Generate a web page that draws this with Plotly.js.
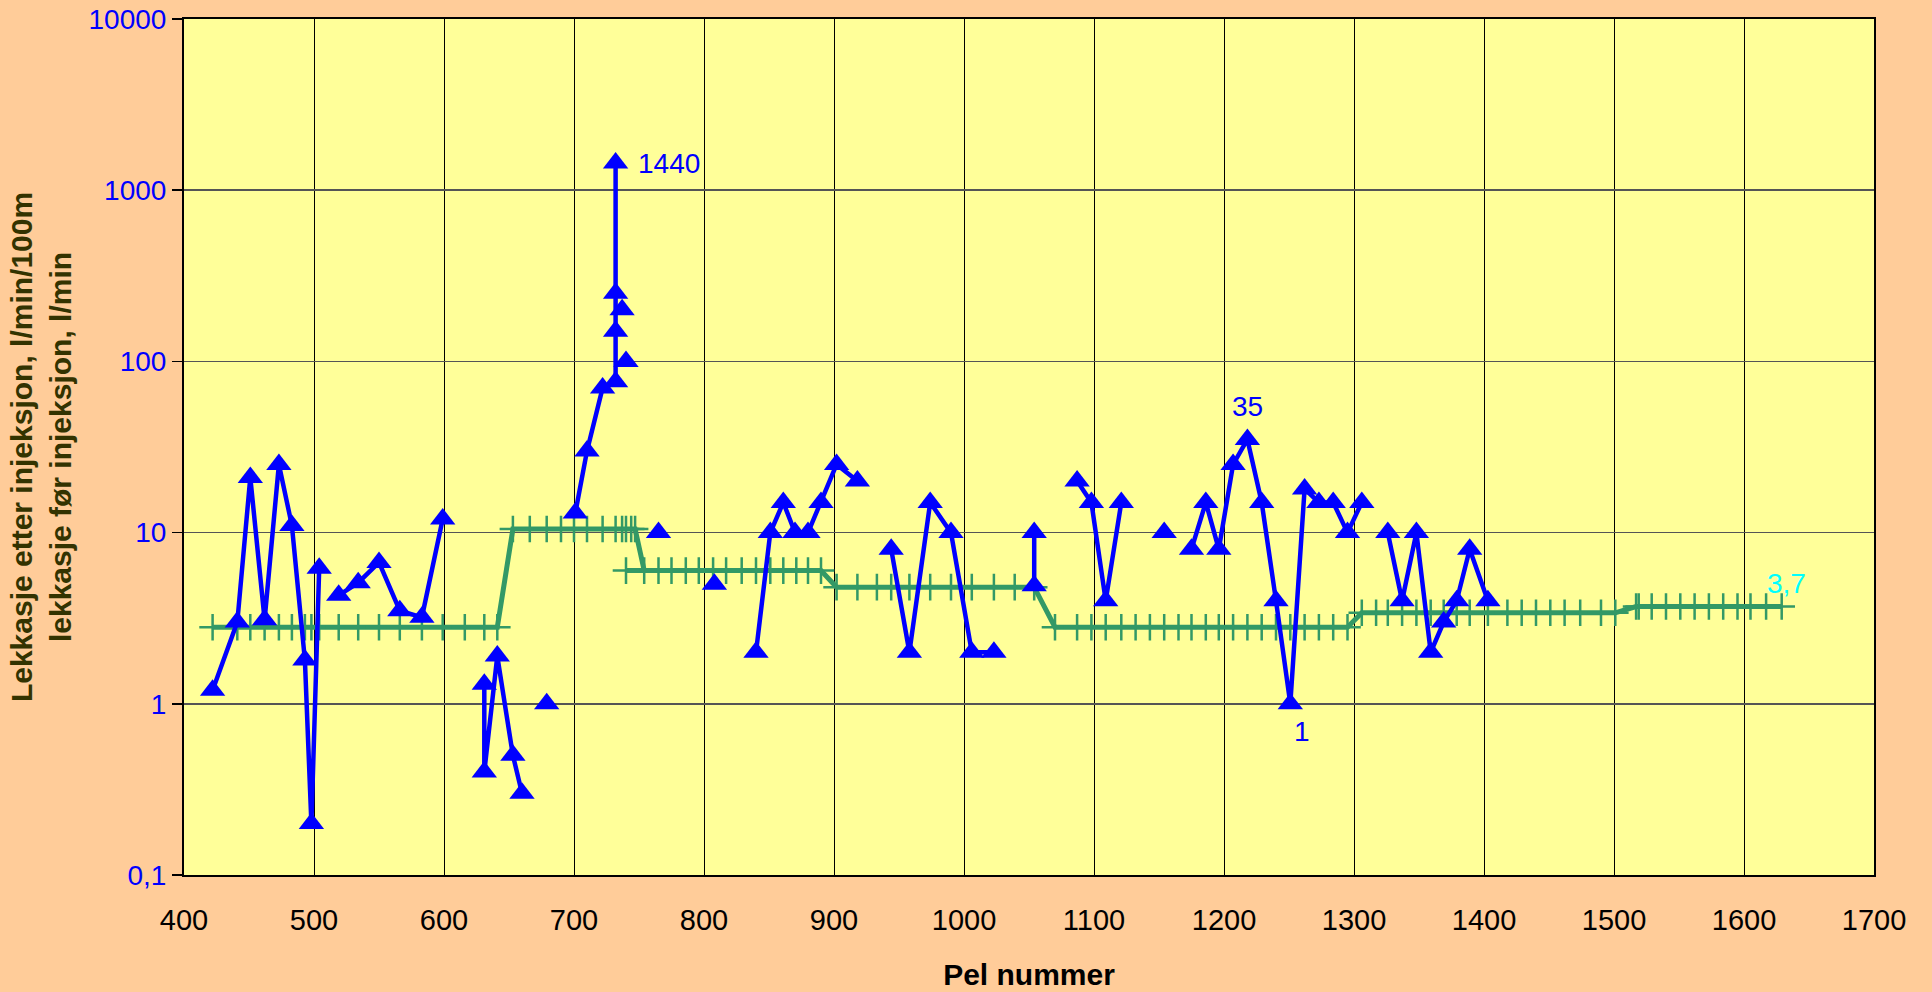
<!DOCTYPE html>
<html>
<head>
<meta charset="utf-8">
<script src="https://cdn.plot.ly/plotly-3.0.1.min.js"></script>
<style>html,body{margin:0;padding:0;background:#FFCC99;}#chart{width:1932px;height:992px;}</style>
</head>
<body>
<div id="chart"></div>
<script>
// Pile numbers and leakage after injection (l/min/100m); null = break in the line
const pelAfter = [422,441,451,462,473,483,493,498,504,null,
  519,534,550,566,583,599,null,
  631,631,641,653,660,null,
  679,null,
  701,710,722,732,732,732,732,null,
  737,null,740,null,
  765,null,808,null,
  840,851,861,870,880,890,902,918,null,
  944,958,974,990,1006,1023,null,
  1054,1054,null,
  1087,1098,1109,1121,null,
  1154,null,
  1175,1186,1196,1207,1218,1229,1240,1251,1262,1273,1284,1295,1306,null,
  1326,1337,1348,1359,1369,1379,1389,1403];
const leakAfter = [1.2,3,21,3.1,25,11,1.8,0.2,6.2,null,
  4.3,5.1,6.7,3.5,3.2,12,null,
  1.3,0.4,1.9,0.5,0.3,null,
  1.0,null,
  13,30,70,76,150,250,1440,null,
  200,null,100,null,
  10,null,5,null,
  2,10,15,10,10,15,25,20,null,
  8,2,15,10,2,2,null,
  10,4.9,null,
  20,15,4,15,null,
  10,null,
  8,15,8,25,35,15,4,1,18,15,15,10,15,null,
  10,4,10,2,3,4,8,4];

// Pile numbers and leakage before injection (l/min)
const pelBefore = [422,441,451,462,473,483,493,498,504,519,534,550,566,583,599,616,631,641,
  653,666,679,690,700,710,722,732,737,740,744,747,
  754,740,765,775,786,796,807,817,829,840,851,861,871,880,890,
  902,918,933,944,958,974,990,1006,1023,1039,1054,
  1070,1087,1098,1109,1121,1132,1143,1154,1165,1175,1186,1196,1207,1218,1229,1240,1251,1262,1273,1284,1295,
  1306,1317,1326,1337,1348,1359,1369,1379,1389,1403,1418,1429,1440,1451,1462,1474,1490,1501,
  1517,1519,1529,1540,1551,1562,1573,1584,1595,1605,1617,1629];
const leakBefore = [2.8,2.8,2.8,2.8,2.8,2.8,2.8,2.8,2.8,2.8,2.8,2.8,2.8,2.8,2.8,2.8,2.8,2.8,
  10.5,10.5,10.5,10.5,10.5,10.5,10.5,10.5,10.5,10.5,10.5,10.5,
  6,6,6,6,6,6,6,6,6,6,6,6,6,6,6,
  4.8,4.8,4.8,4.8,4.8,4.8,4.8,4.8,4.8,4.8,4.8,
  2.8,2.8,2.8,2.8,2.8,2.8,2.8,2.8,2.8,2.8,2.8,2.8,2.8,2.8,2.8,2.8,2.8,2.8,2.8,2.8,2.8,
  3.4,3.4,3.4,3.4,3.4,3.4,3.4,3.4,3.4,3.4,3.4,3.4,3.4,3.4,3.4,3.4,3.4,3.4,
  3.7,3.7,3.7,3.7,3.7,3.7,3.7,3.7,3.7,3.7,3.7,3.7];

// Axis ticks
const yTickVals = [0.1,1,10,100,1000,10000];
const yTickText = ['0,1','1','10','100','1000','10000'];

// Point labels
const labelPel = [732,1218,1251,1629];
const labelVal = [1440,35,1,3.7];
const labelText = ['1440','35','1','3,7'];
const labelColor = ['#0000FF','#0000FF','#0000FF','#00FFFF'];
const labelShiftX = [20,0,12,5];
const labelShiftY = [0,33,-28,23];
const labelAnchorX = ['left','center','center','center'];

const FONT = 'Liberation Sans, Arial, sans-serif';

const traces = [
  {
    x: pelBefore, y: leakBefore, type: 'scatter', mode: 'lines+markers',
    name: 'lekkasje før injeksjon',
    line: {color: '#339966', width: 5},
    marker: {symbol: 'cross-thin', size: 19, color: '#339966', line: {color: '#339966', width: 2.5}},
    hoverinfo: 'x+y'
  },
  {
    x: pelAfter, y: leakAfter, type: 'scatter', mode: 'lines+markers',
    name: 'Lekkasje etter injeksjon',
    connectgaps: false,
    line: {color: '#0000FF', width: 4.5},
    marker: {symbol: 'triangle-up', size: 22, color: '#0000FF'},
    hoverinfo: 'x+y'
  }
];

const annotations = labelText.map((t, i) => ({
  x: labelPel[i], y: Math.log10(labelVal[i]), xref: 'x', yref: 'y',
  text: t, showarrow: false, xanchor: labelAnchorX[i], yanchor: 'middle',
  xshift: labelShiftX[i], yshift: labelShiftY[i],
  font: {family: FONT, size: 28, color: labelColor[i]}
}));

const layout = {
  width: 1932, height: 992,
  margin: {l: 184, r: 58, t: 19, b: 117, pad: 0},
  paper_bgcolor: '#FFCC99',
  plot_bgcolor: '#FFFF99',
  showlegend: false,
  font: {family: FONT},
  xaxis: {
    range: [400, 1700], tick0: 400, dtick: 100,
    showgrid: true, gridcolor: '#000000', gridwidth: 1,
    zeroline: false, showline: true, linecolor: '#000000', linewidth: 2, mirror: true,
    ticks: '', ticklabelstandoff: 18,
    tickfont: {family: FONT, size: 29, color: '#000000'},
    title: {text: '<b>Pel nummer</b>', font: {family: FONT, size: 30, color: '#000000'}, standoff: 29},
    automargin: false
  },
  yaxis: {
    type: 'log', range: [-1, 4],
    tickmode: 'array', tickvals: yTickVals, ticktext: yTickText,
    showgrid: true, gridcolor: '#555555', gridwidth: 1.5,
    zeroline: false, showline: true, linecolor: '#000000', linewidth: 2, mirror: true,
    ticks: 'outside', ticklen: 10, tickwidth: 1.5, tickcolor: '#000000',
    tickfont: {family: FONT, size: 28, color: '#0000FF'},
    title: {text: '<b>Lekkasje etter injeksjon, l/min/100m<br>lekkasje før injeksjon, l/min</b>',
            font: {family: FONT, size: 30, color: '#333300'}, standoff: 8},
    automargin: false
  },
  annotations: annotations
};

Plotly.newPlot('chart', traces, layout, {displayModeBar: false, staticPlot: true});
</script>
</body>
</html>
